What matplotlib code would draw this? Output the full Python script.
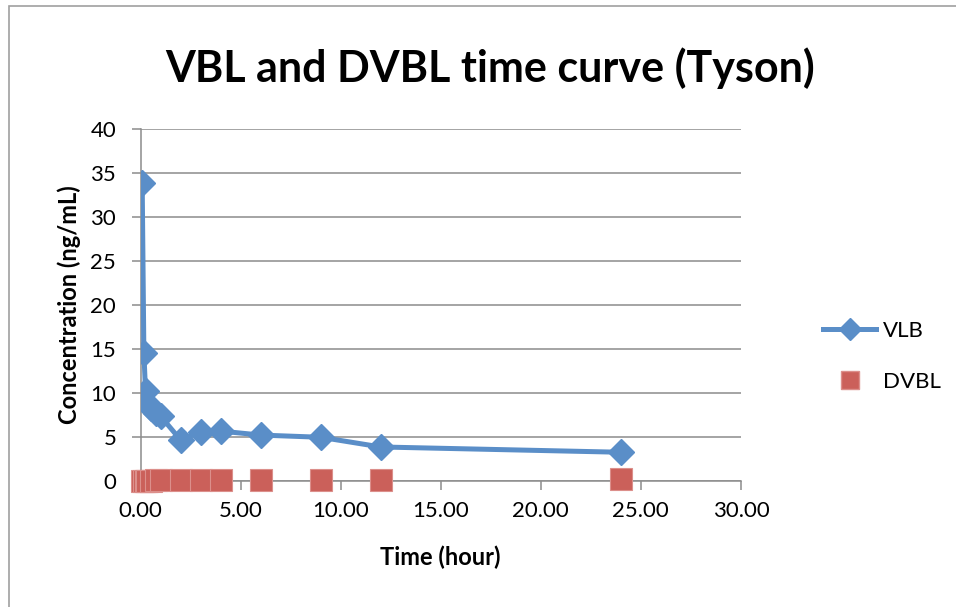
import matplotlib
matplotlib.use("Agg")
import matplotlib.pyplot as plt
from matplotlib.lines import Line2D
from matplotlib.patches import Rectangle

plt.rcParams['font.family'] = ['Lato', 'DejaVu Sans']

# Sampling times (hours) and measured concentrations (ng/mL)
time_h = [0.083, 0.167, 0.25, 0.33, 0.5, 0.75, 1.0, 2.0, 3.0, 4.0, 6.0, 9.0, 12.0, 24.0]
vlb = [33.8, 14.6, 10.2, 8.9, 8.3, 7.7, 7.4, 4.7, 5.65, 5.7, 5.25, 5.0, 3.9, 3.3]
dvbl = [0.05, 0.06, 0.07, 0.08, 0.08, 0.10, 0.10, 0.10, 0.15, 0.15, 0.13, 0.17, 0.17, 0.26]

x_ticks = [0, 5, 10, 15, 20, 25, 30]
y_ticks = [0, 5, 10, 15, 20, 25, 30, 35, 40]

blue = '#5A8EC8'
red = '#CB605A'
red_edge = '#DC8F8B'
grid_gray = '#8C8C8C'

fig = plt.figure(figsize=(9.56, 6.07), dpi=100)
fig.patches.append(Rectangle((9 / 956, -0.1), 1.2, 1 - 6 / 607 + 0.1,
                             transform=fig.transFigure, fill=False,
                             edgecolor='#A0A0A0', linewidth=1.2))

ax = fig.add_axes([0.147, 0.207, 0.628, 0.581])

ax.plot(time_h, vlb, color=blue, linewidth=3.6, marker='D', markersize=13.5,
        markerfacecolor=blue, markeredgecolor=blue, zorder=3, label='VLB')
ax.plot(time_h, dvbl, linestyle='none', marker='s', markersize=16,
        markerfacecolor=red, markeredgecolor=red_edge, markeredgewidth=0.8,
        zorder=4, label='DVBL', clip_on=False)

ax.set_xlim(0, 30)
ax.set_ylim(0, 40)
ax.set_xticks(x_ticks)
ax.set_xticklabels([f'{v:.2f}' for v in x_ticks])
ax.set_yticks(y_ticks)
ax.set_yticklabels([str(v) for v in y_ticks])

ax.grid(axis='y', color=grid_gray, linewidth=1.1)
ax.set_axisbelow(True)
for side in ('top', 'right'):
    ax.spines[side].set_visible(False)
for side in ('left', 'bottom'):
    ax.spines[side].set_color(grid_gray)
    ax.spines[side].set_linewidth(1.1)

ax.tick_params(axis='both', colors=grid_gray, labelcolor='black',
               labelsize=16, length=6.5, width=1.1, direction='out')
ax.tick_params(axis='x', pad=8)
ax.tick_params(axis='y', pad=11)

ax.set_xlabel('Time (hour)', fontsize=17, fontweight='bold', labelpad=17)
ax.set_ylabel('Concentration (ng/mL)', fontsize=17, fontweight='bold', labelpad=7)

fig.text(0.513, 0.888, 'VBL and DVBL time curve (Tyson)', ha='center', va='center',
         fontsize=31, fontweight='bold')

handles = [Line2D([0], [0], color=blue, linewidth=3.6, marker='D', markersize=11),
           Line2D([0], [0], linestyle='none', marker='s', markersize=13,
                  markerfacecolor=red, markeredgecolor=red_edge)]
fig.legend(handles, ['VLB', 'DVBL'], loc='center left',
           bbox_to_anchor=(0.84, 0.413), frameon=False, fontsize=16,
           handlelength=2.4, labelspacing=1.4, handletextpad=0.3)

fig.savefig('out.png', dpi=100)
